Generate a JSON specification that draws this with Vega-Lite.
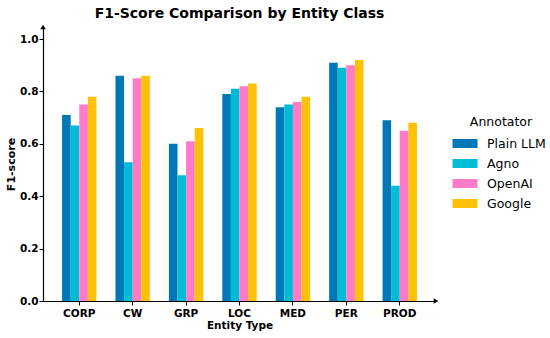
{
  "$schema": "https://vega.github.io/schema/vega-lite/v6.json",
  "width": 393,
  "height": 274,
  "autosize": "none",
  "padding": {"left": 43, "top": 27, "right": 114, "bottom": 37},
  "background": "white",
  "title": {"text": "F1-Score Comparison by Entity Class", "font": "DejaVu Sans", "fontSize": 14, "fontWeight": "bold", "color": "black", "offset": 4, "anchor": "middle"},
  "config": {"view": {"stroke": null}},
  "layer": [
    {
      "data": {"values": [
        {"entity": "CORP", "annotator": "Plain LLM", "f1": 0.71},
        {"entity": "CORP", "annotator": "Agno", "f1": 0.67},
        {"entity": "CORP", "annotator": "OpenAI", "f1": 0.75},
        {"entity": "CORP", "annotator": "Google", "f1": 0.78},
        {"entity": "CW", "annotator": "Plain LLM", "f1": 0.86},
        {"entity": "CW", "annotator": "Agno", "f1": 0.53},
        {"entity": "CW", "annotator": "OpenAI", "f1": 0.85},
        {"entity": "CW", "annotator": "Google", "f1": 0.86},
        {"entity": "GRP", "annotator": "Plain LLM", "f1": 0.60},
        {"entity": "GRP", "annotator": "Agno", "f1": 0.48},
        {"entity": "GRP", "annotator": "OpenAI", "f1": 0.61},
        {"entity": "GRP", "annotator": "Google", "f1": 0.66},
        {"entity": "LOC", "annotator": "Plain LLM", "f1": 0.79},
        {"entity": "LOC", "annotator": "Agno", "f1": 0.81},
        {"entity": "LOC", "annotator": "OpenAI", "f1": 0.82},
        {"entity": "LOC", "annotator": "Google", "f1": 0.83},
        {"entity": "MED", "annotator": "Plain LLM", "f1": 0.74},
        {"entity": "MED", "annotator": "Agno", "f1": 0.75},
        {"entity": "MED", "annotator": "OpenAI", "f1": 0.76},
        {"entity": "MED", "annotator": "Google", "f1": 0.78},
        {"entity": "PER", "annotator": "Plain LLM", "f1": 0.91},
        {"entity": "PER", "annotator": "Agno", "f1": 0.89},
        {"entity": "PER", "annotator": "OpenAI", "f1": 0.90},
        {"entity": "PER", "annotator": "Google", "f1": 0.92},
        {"entity": "PROD", "annotator": "Plain LLM", "f1": 0.69},
        {"entity": "PROD", "annotator": "Agno", "f1": 0.44},
        {"entity": "PROD", "annotator": "OpenAI", "f1": 0.65},
        {"entity": "PROD", "annotator": "Google", "f1": 0.68}
      ]},
      "mark": {"type": "bar"},
      "encoding": {
        "x": {"field": "entity", "type": "nominal", "sort": ["CORP", "CW", "GRP", "LOC", "MED", "PER", "PROD"],
          "scale": {"paddingInner": 0.356, "paddingOuter": 0.357},
          "axis": {"title": "Entity Type", "labelAngle": 0, "labelFont": "DejaVu Sans", "labelFontSize": 10.5, "labelFontWeight": "bold", "labelColor": "black",
            "titleFont": "DejaVu Sans", "titleFontSize": 10.5, "titleFontWeight": "bold", "titleColor": "black", "titlePadding": 2,
            "domainColor": "black", "domainWidth": 1.2, "tickColor": "black", "tickSize": 4, "labelPadding": 3, "grid": false}},
        "xOffset": {"field": "annotator", "type": "nominal", "sort": ["Plain LLM", "Agno", "OpenAI", "Google"]},
        "y": {"field": "f1", "type": "quantitative",
          "scale": {"domain": [0, 1.046], "nice": false},
          "axis": {"title": "F1-score", "values": [0, 0.2, 0.4, 0.6, 0.8, 1.0], "format": ".1f", "labelFont": "DejaVu Sans", "labelFontSize": 10.5, "labelFontWeight": "bold", "labelColor": "black",
            "titleFont": "DejaVu Sans", "titleFontSize": 11, "titleFontWeight": "bold", "titleColor": "black", "titlePadding": 3,
            "domainColor": "black", "domainWidth": 1.2, "tickColor": "black", "tickSize": 4, "labelPadding": 1, "grid": false}},
        "color": {"field": "annotator", "type": "nominal", "sort": ["Plain LLM", "Agno", "OpenAI", "Google"],
          "scale": {"domain": ["Plain LLM", "Agno", "OpenAI", "Google"], "range": ["#0077b6", "#00bcd4", "#ff7bc8", "#ffc107"]},
          "legend": {"title": "Annotator", "orient": "none", "legendX": 413, "legendY": 89, "titleAnchor": "middle",
            "titleFont": "DejaVu Sans", "titleFontSize": 12.5, "titleFontWeight": "normal", "titleColor": "black", "titlePadding": 6,
            "labelFont": "DejaVu Sans", "labelFontSize": 12.5, "labelColor": "black", "labelOffset": 13,
            "symbolType": "M-1.39,-0.5H1.39V0.5H-1.39Z", "symbolSize": 324, "symbolStrokeWidth": 0, "symbolOpacity": 1, "rowPadding": 4}}
      }
    },
    {
      "data": {"values": [
        {"ax": 0, "ay": 1.046, "shape": "triangle-up"},
        {"ax": 1, "ay": 0, "shape": "triangle-right"}
      ]},
      "mark": {"type": "point", "filled": true, "color": "black", "opacity": 1, "size": 30},
      "encoding": {
        "x": {"field": "ax", "type": "quantitative", "scale": {"domain": [0, 1], "nice": false, "zero": false}, "axis": null},
        "y": {"field": "ay", "type": "quantitative"},
        "shape": {"field": "shape", "type": "nominal", "scale": null}
      }
    }
  ],
  "resolve": {"scale": {"x": "independent"}}
}
